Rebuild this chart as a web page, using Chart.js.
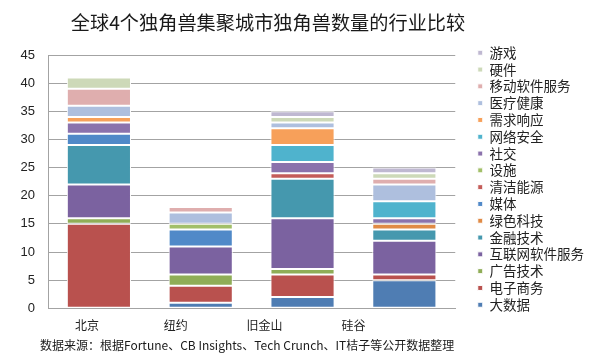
<!DOCTYPE html>
<html><head><meta charset="utf-8">
<script src="https://cdn.jsdelivr.net/npm/chart.js@4.4.1/dist/chart.umd.min.js"></script>
<style>
html,body{margin:0;padding:0;background:#fff;}
#wrap{position:relative;width:600px;height:360px;overflow:hidden;background:#fff;}
#c{position:absolute;left:0;top:0;}
#title{position:absolute;left:0;width:536px;top:9px;text-align:center;font-family:"Noto Sans CJK SC";font-size:19.2px;color:#1a1a1a;line-height:26px;white-space:nowrap;}
#src{position:absolute;left:40px;top:336px;font-family:"Noto Sans CJK SC";font-size:12px;color:#1a1a1a;line-height:18px;white-space:nowrap;}
</style></head>
<body>
<div id="wrap">
<canvas id="c" width="600" height="360"></canvas>
<div id="title">全球4个独角兽集聚城市独角兽数量的行业比较</div>
<div id="src">数据来源：根据Fortune、CB Insights、Tech Crunch、IT桔子等公开数据整理</div>
</div>
<script>
// Categories (cities)
const categories = ['北京', '纽约', '旧金山', '硅谷'];
// Series names, bottom of stack to top
const seriesNames = ['大数据','电子商务','广告技术','互联网软件服务','金融技术','绿色科技','媒体','清洁能源','设施','社交','网络安全','需求响应','医疗健康','移动软件服务','硬件','游戏'];
// Values per series: [北京, 纽约, 旧金山, 硅谷]
const bigData      = [0, 1, 2, 5];
const eCommerce    = [15, 3, 4, 1];
const adTech       = [1, 2, 1, 0];
const internetSw   = [6, 5, 9, 6];
const finTech      = [7, 0, 7, 2];
const greenTech    = [0, 0, 0, 1];
const media        = [2, 3, 0, 0];
const cleanEnergy  = [0, 0, 1, 0];
const facilities   = [0, 1, 0, 0];
const social       = [2, 0, 2, 1];
const cyberSec     = [0, 0, 3, 3];
const onDemand     = [1, 0, 3, 0];
const healthcare   = [2, 2, 1, 3];
const mobileSw     = [3, 1, 0, 1];
const hardware     = [2, 0, 1, 1];
const gaming       = [0, 0, 1, 1];
const seriesValues = [bigData, eCommerce, adTech, internetSw, finTech, greenTech, media, cleanEnergy, facilities, social, cyberSec, onDemand, healthcare, mobileSw, hardware, gaming];
// Y axis ticks
const yMin = 0, yMax = 45, yStep = 5;

const palette = ['#4F7DB3','#B9514E','#8FAD57','#7B62A0','#4598AE','#E08A45','#5089C8','#C45C59','#A2BF68','#8B72AC','#4FB3CD','#F7A05A','#AEBFDE','#DFAEAE','#CDD9B8','#BFB8D1'];

const datasets = seriesNames.map((name, i) => ({
  label: name,
  data: seriesValues[i],
  backgroundColor: palette[i],
  borderColor: '#ffffff',
  borderWidth: 1,
  borderSkipped: false,
  barPercentage: 0.63,
  categoryPercentage: 1.0,
  xAxisID: 'x',
  yAxisID: 'y'
}));

new Chart(document.getElementById('c'), {
  type: 'bar',
  data: { labels: categories, datasets },
  options: {
    responsive: false,
    animation: false,
    devicePixelRatio: 1,
    layout: { padding: { top: 42.7, right: 6, bottom: 27.7, left: 0 } },
    plugins: {
      legend: {
        position: 'right',
        align: 'start',
        reverse: true,
        maxWidth: 150,
        labels: {
          boxWidth: 5, boxHeight: 5, padding: 3.3,
          color: '#222',
          font: { size: 13.5, family: 'Noto Sans CJK SC', lineHeight: 1 }
        }
      },
      tooltip: { enabled: false }
    },
    scales: {
      x: {
        type: 'category', stacked: true, offset: true, position: 'bottom',
        grid: { display: false, drawTicks: false },
        border: { color: '#a3a3a3' },
        ticks: { display: false }
      },
      xl: {
        type: 'linear', position: 'bottom', min: -0.438, max: 4.146, offset: false,
        grid: { display: false, drawTicks: false, offset: false },
        border: { display: false },
        afterBuildTicks: s => { s.ticks = categories.map((c, i) => ({ value: i })); },
        afterFit: s => { s.height = 24; },
        ticks: {
          autoSkip: false, maxRotation: 0, padding: 9.5, color: '#222',
          font: { size: 12, family: 'Noto Sans CJK SC' },
          callback: v => categories[v] ?? ''
        }
      },
      xt: {
        type: 'linear', position: 'top', min: 0, max: 1, offset: false,
        grid: { display: false, drawTicks: false }, border: { display: false },
        ticks: { display: false },
        afterFit: s => { s.height = 12.3; }
      },
      yr: {
        type: 'linear', position: 'right', min: 0, max: 1,
        grid: { display: false, drawTicks: false }, border: { display: false },
        ticks: { display: false },
        afterFit: s => { s.width = 19.2; }
      },
      y: {
        stacked: true, min: yMin, max: yMax, position: 'left',
        ticks: { stepSize: yStep, padding: 13, color: '#222', font: { size: 13, family: 'Liberation Sans' } },
        grid: { color: '#a3a3a3', drawTicks: false },
        border: { color: '#a3a3a3' },
        afterFit: s => { s.width = 48; }
      }
    }
  }
});
</script>
</body></html>
